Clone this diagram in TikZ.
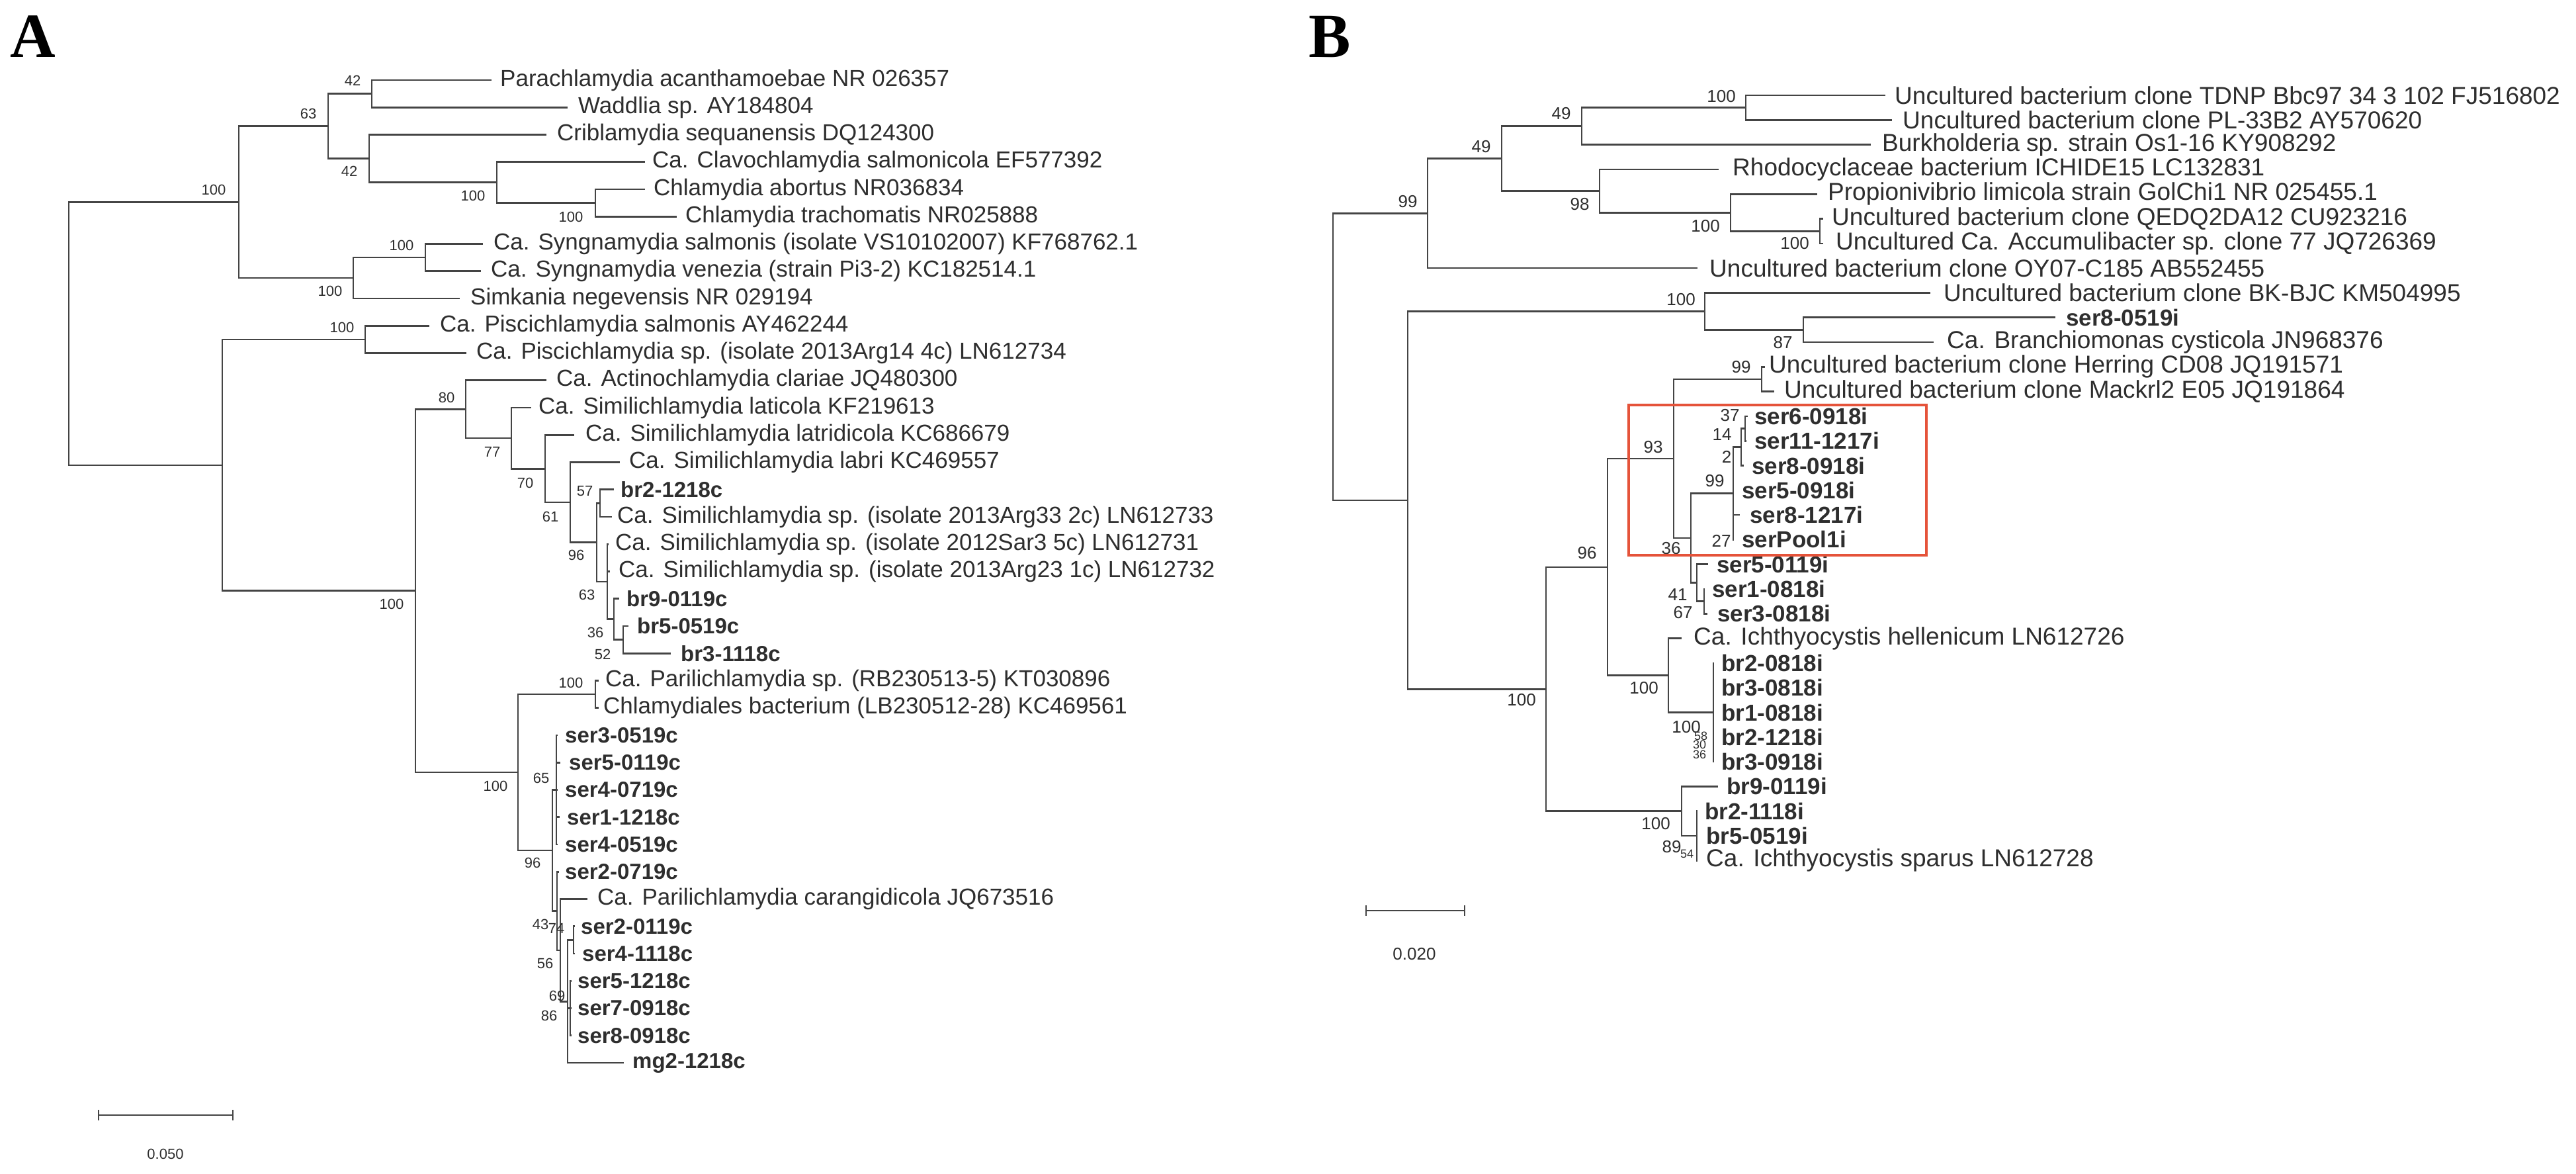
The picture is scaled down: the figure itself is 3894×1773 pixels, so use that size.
\documentclass[tikz,border=0pt]{standalone}
\usepackage{fontspec}
\setmainfont{Liberation Sans}
\newfontfamily\serifb{Liberation Serif}
\definecolor{treeline}{HTML}{444444}
\definecolor{txt}{HTML}{2E2E2E}
\definecolor{boxred}{HTML}{E5533A}
\tikzset{
  edge/.style={draw=treeline,line width=2.6pt},
  lA/.style={anchor=west,inner sep=0pt,text=txt,font=\fontsize{35}{40}\selectfont},
  bA/.style={anchor=west,inner sep=0pt,text=txt,font=\fontsize{33}{38}\selectfont\bfseries},
  lB/.style={anchor=west,inner sep=0pt,text=txt,font=\fontsize{37}{42}\selectfont},
  bB/.style={anchor=west,inner sep=0pt,text=txt,font=\fontsize{35}{40}\selectfont\bfseries},
  sA/.style={inner sep=0pt,text=txt,font=\fontsize{22}{24}\selectfont},
  sB/.style={inner sep=0pt,text=txt,font=\fontsize{26}{28}\selectfont},
  sC/.style={inner sep=0pt,text=txt,font=\fontsize{18}{19}\selectfont},
  panel/.style={inner sep=0pt,font=\fontsize{95}{100}\selectfont\serifb\bfseries}
}
\newcommand\leaf[6]{\coordinate (#1) at (#2,#3); \node[#5] (#1-t) at (#4,#3) {#6};}
\newcommand\ed[2]{\draw[edge] (#1) |- (#2);}
\newcommand\bsv[5]{\node[#5] (#1) at (#2,#3) {#4};}
\begin{document}
\begin{tikzpicture}[x=1pt,y=-1pt]
\useasboundingbox (0,0) rectangle (3894,1773);
\fill[white] (0,0) rectangle (3894,1773);
\node[panel] (pA) at (50,55) {A};
\node[panel] (pB) at (2010,56) {B};

% ---------------- Panel A ----------------
\coordinate (rA) at (104,504);
\coordinate (n100a) at (361,305.3);
\coordinate (n63) at (496,190.6);
\coordinate (n42a) at (562,141.6);
\coordinate (n42b) at (558,239.6);
\coordinate (n100b) at (751,275.7);
\coordinate (n100c) at (900,306.6);
\coordinate (n100d) at (534,420);
\coordinate (n100e) at (643,389.1);
\coordinate (nlow) at (336,702.8);
\coordinate (n100f) at (552,512.9);
\coordinate (n100g) at (628,892.7);
\coordinate (n80) at (704,618.4);
\coordinate (n77) at (773,662.1);
\coordinate (n70) at (824,708.2);
\coordinate (n61) at (862,759.1);
\coordinate (n96) at (902,819.7);
\coordinate (n57) at (907,760.4);
\coordinate (n63b) at (918,879);
\coordinate (n36) at (928,935.7);
\coordinate (n52) at (942,966.6);
\coordinate (n100i) at (783,1167);
\coordinate (n100h) at (900,1049.1);
\coordinate (n96s) at (835,1285);
\coordinate (n65) at (841,1193.5);
\coordinate (n43) at (842,1376.6);
\coordinate (n74) at (847,1435.9);
\coordinate (n56) at (858,1513.2);
\coordinate (n74b) at (867,1420.4);
\coordinate (n69) at (862,1523.5);

\leaf{para}{743}{121}{756}{lA}{Parachlamydia acanthamoebae NR 026357}
\leaf{wadd}{858}{162.25}{874}{lA}{Waddlia sp. AY184804}
\leaf{cribl}{826}{203.5}{842}{lA}{Criblamydia sequanensis DQ124300}
\leaf{clavo}{975}{244.75}{986}{lA}{Ca. Clavochlamydia salmonicola EF577392}
\leaf{abort}{975}{286}{988}{lA}{Chlamydia abortus NR036834}
\leaf{trach}{1023}{327.25}{1036}{lA}{Chlamydia trachomatis NR025888}
\leaf{syngS}{730}{368.5}{746}{lA}{Ca. Syngnamydia salmonis (isolate VS10102007) KF768762.1}
\leaf{syngV}{727}{409.75}{742}{lA}{Ca. Syngnamydia venezia (strain Pi3-2) KC182514.1}
\leaf{simk}{695}{451}{711}{lA}{Simkania negevensis NR 029194}
\leaf{pisS}{649}{492.25}{665}{lA}{Ca. Piscichlamydia salmonis AY462244}
\leaf{pisSp}{705}{533.5}{720}{lA}{Ca. Piscichlamydia sp. (isolate 2013Arg14 4c) LN612734}
\leaf{actino}{826}{574.75}{841}{lA}{Ca. Actinochlamydia clariae JQ480300}
\leaf{latic}{803}{616}{814}{lA}{Ca. Similichlamydia laticola KF219613}
\leaf{latri}{868}{657.25}{885}{lA}{Ca. Similichlamydia latridicola KC686679}
\leaf{labri}{937}{698.5}{951}{lA}{Ca. Similichlamydia labri KC469557}
\leaf{brA}{928}{739.75}{938}{bA}{br2-1218c}
\leaf{arg33}{925}{781}{933}{lA}{Ca. Similichlamydia sp. (isolate 2013Arg33 2c) LN612733}
\leaf{sar3}{920}{822.25}{930}{lA}{Ca. Similichlamydia sp. (isolate 2012Sar3 5c) LN612731}
\leaf{arg23}{922}{863.5}{935}{lA}{Ca. Similichlamydia sp. (isolate 2013Arg23 1c) LN612732}
\leaf{br9}{936}{904.75}{947}{bA}{br9-0119c}
\leaf{br5}{950}{946}{963}{bA}{br5-0519c}
\leaf{br3}{1014}{987.25}{1029}{bA}{br3-1118c}
\leaf{parsp}{905}{1028.5}{915}{lA}{Ca. Parilichlamydia sp. (RB230513-5) KT030896}
\leaf{chlb}{905}{1069.75}{912}{lA}{Chlamydiales bacterium (LB230512-28) KC469561}
\leaf{serA1}{843}{1111}{854}{bA}{ser3-0519c}
\leaf{serA2}{847}{1152.25}{860}{bA}{ser5-0119c}
\leaf{serA3}{843}{1193.5}{854}{bA}{ser4-0719c}
\leaf{serA4}{846}{1234.75}{857}{bA}{ser1-1218c}
\leaf{serA5}{843}{1276}{854}{bA}{ser4-0519c}
\leaf{serA6}{845}{1317.25}{854}{bA}{ser2-0719c}
\leaf{parc}{888}{1358.5}{903}{lA}{Ca. Parilichlamydia carangidicola JQ673516}
\leaf{serA7}{869}{1399.75}{878}{bA}{ser2-0119c}
\leaf{serA8}{869}{1441}{880}{bA}{ser4-1118c}
\leaf{serA9}{864}{1482.25}{873}{bA}{ser5-1218c}
\leaf{serA10}{864}{1523.5}{873}{bA}{ser7-0918c}
\leaf{serA11}{864}{1564.75}{873}{bA}{ser8-0918c}
\leaf{mg2}{943}{1606}{956}{bA}{mg2-1218c}

\ed{rA}{n100a}\ed{rA}{nlow}
\ed{n100a}{n63}\ed{n100a}{n100d}
\ed{n63}{n42a}\ed{n63}{n42b}
\ed{n42a}{para}\ed{n42a}{wadd}
\ed{n42b}{cribl}\ed{n42b}{n100b}
\ed{n100b}{clavo}\ed{n100b}{n100c}
\ed{n100c}{abort}\ed{n100c}{trach}
\ed{n100d}{n100e}\ed{n100d}{simk}
\ed{n100e}{syngS}\ed{n100e}{syngV}
\ed{nlow}{n100f}\ed{nlow}{n100g}
\ed{n100f}{pisS}\ed{n100f}{pisSp}
\ed{n100g}{n80}\ed{n100g}{n100i}
\ed{n80}{actino}\ed{n80}{n77}
\ed{n77}{latic}\ed{n77}{n70}
\ed{n70}{latri}\ed{n70}{n61}
\ed{n61}{labri}\ed{n61}{n96}
\ed{n96}{n57}\ed{n96}{n63b}
\ed{n57}{brA}\ed{n57}{arg33}
\ed{n63b}{sar3}\ed{n63b}{arg23}\ed{n63b}{n36}
\ed{n36}{br9}\ed{n36}{n52}
\ed{n52}{br5}\ed{n52}{br3}
\ed{n100i}{n100h}\ed{n100i}{n96s}
\ed{n100h}{parsp}\ed{n100h}{chlb}
\ed{n96s}{n65}\ed{n96s}{n43}
\ed{n65}{serA1}\ed{n65}{serA2}\ed{n65}{serA3}\ed{n65}{serA4}\ed{n65}{serA5}
\ed{n43}{serA6}\ed{n43}{n74}
\ed{n74}{parc}\ed{n74}{n56}
\ed{n56}{n74b}\ed{n56}{n69}\ed{n56}{mg2}
\ed{n74b}{serA7}\ed{n74b}{serA8}
\ed{n69}{serA9}\ed{n69}{serA10}\ed{n69}{serA11}

\bsv{a1}{533}{122}{42}{sA}
\bsv{a2}{466}{172}{63}{sA}
\bsv{a3}{528}{259}{42}{sA}
\bsv{a4}{323}{287}{100}{sA}
\bsv{a5}{715}{296}{100}{sA}
\bsv{a6}{863}{328}{100}{sA}
\bsv{a7}{607}{371}{100}{sA}
\bsv{a8}{499}{440}{100}{sA}
\bsv{a9}{517}{495}{100}{sA}
\bsv{a10}{675}{601}{80}{sA}
\bsv{a11}{744}{683}{77}{sA}
\bsv{a12}{794}{730}{70}{sA}
\bsv{a13}{832}{781}{61}{sA}
\bsv{a14}{884}{742}{57}{sA}
\bsv{a15}{871}{839}{96}{sA}
\bsv{a16}{887}{899}{63}{sA}
\bsv{a17}{900}{956}{36}{sA}
\bsv{a18}{911}{989}{52}{sA}
\bsv{a19}{592}{913}{100}{sA}
\bsv{a20}{863}{1032}{100}{sA}
\bsv{a21}{749}{1188}{100}{sA}
\bsv{a22}{818}{1176}{65}{sA}
\bsv{a23}{805}{1304}{96}{sA}
\bsv{a24}{817}{1397}{43}{sA}
\bsv{a25}{841}{1403}{74}{sA}
\bsv{a26}{824}{1456}{56}{sA}
\bsv{a27}{842}{1505}{69}{sA}
\bsv{a28}{830}{1535}{86}{sA}

\coordinate (sa1) at (149,1685); \coordinate (sa2) at (352,1685);
\draw[edge,line width=2pt] (sa1) -- (sa2);
\draw[edge,line width=2pt] (149,1677) -- (149,1693) (352,1677) -- (352,1693);
\node[sA] (sal) at (250,1744) {0.050};

% ---------------- Panel B ----------------
\coordinate (rB) at (2015,539.1);
\coordinate (n99) at (2158,322.3);
\coordinate (n49a) at (2270,239.6);
\coordinate (n49b) at (2391,190.6);
\coordinate (nt100) at (2639,162.7);
\coordinate (n98) at (2418,288.5);
\coordinate (n100p) at (2616,321.2);
\coordinate (n100q) at (2751,349.2);
\coordinate (nlowB) at (2128,755.9);
\coordinate (n100bk) at (2577,470.4);
\coordinate (n87) at (2726,498.4);
\coordinate (n96B) at (2337,1041.3);
\coordinate (n93) at (2430,856.8);
\coordinate (na) at (2530,693);
\coordinate (n99h) at (2663,573);
\coordinate (n36B) at (2556,813.1);
\coordinate (n99s) at (2620,745.5);
\coordinate (n14) at (2632,675.5);
\coordinate (n37) at (2638,647.6);
\coordinate (n41) at (2565,880.7);
\coordinate (n67) at (2576,908.7);
\coordinate (n100hell) at (2522,1020.6);
\coordinate (n100br) at (2590,1076.5);
\coordinate (n100cB) at (2542,1225.7);
\coordinate (n89) at (2565,1263);

\leaf{tdnp}{2850}{144}{2864}{lB}{Uncultured bacterium clone TDNP Bbc97 34 3 102 FJ516802}
\leaf{pl}{2860}{181.3}{2876}{lB}{Uncultured bacterium clone PL-33B2 AY570620}
\leaf{burk}{2828}{218.6}{2845}{lB}{Burkholderia sp. strain Os1-16 KY908292}
\leaf{rhodo}{2598}{255.9}{2619}{lB}{Rhodocyclaceae bacterium ICHIDE15 LC132831}
\leaf{propi}{2747}{293.2}{2763}{lB}{Propionivibrio limicola strain GolChi1 NR 025455.1}
\leaf{qedq}{2756}{330.5}{2769}{lB}{Uncultured bacterium clone QEDQ2DA12 CU923216}
\leaf{accum}{2756}{367.8}{2775}{lB}{Uncultured Ca. Accumulibacter sp. clone 77 JQ726369}
\leaf{oy07}{2566}{405.1}{2584}{lB}{Uncultured bacterium clone OY07-C185 AB552455}
\leaf{bk}{2918}{442.4}{2938}{lB}{Uncultured bacterium clone BK-BJC KM504995}
\leaf{serB1}{3107}{479.7}{3123}{bB}{ser8-0519i}
\leaf{branch}{2923}{517}{2943}{lB}{Ca. Branchiomonas cysticola JN968376}
\leaf{herr}{2668}{554.3}{2674}{lB}{Uncultured bacterium clone Herring CD08 JQ191571}
\leaf{mack}{2682}{591.6}{2697}{lB}{Uncultured bacterium clone Mackrl2 E05 JQ191864}
\leaf{serB2}{2642}{628.9}{2652}{bB}{ser6-0918i}
\leaf{serB3}{2640}{666.2}{2652}{bB}{ser11-1217i}
\leaf{serB4}{2636}{703.5}{2648}{bB}{ser8-0918i}
\leaf{serB5}{2621}{740.8}{2633}{bB}{ser5-0918i}
\leaf{serB6}{2630}{778.1}{2645}{bB}{ser8-1217i}
\leaf{serB7}{2621}{815.4}{2633}{bB}{serPool1i}
\leaf{serB8}{2582}{852.7}{2595}{bB}{ser5-0119i}
\leaf{serB9}{2577}{890}{2588}{bB}{ser1-0818i}
\leaf{serB10}{2581}{927.3}{2596}{bB}{ser3-0818i}
\leaf{hell}{2542}{964.6}{2560}{lB}{Ca. Ichthyocystis hellenicum LN612726}
\leaf{brB1}{2591}{1001.9}{2602}{bB}{br2-0818i}
\leaf{brB2}{2591}{1039.2}{2602}{bB}{br3-0818i}
\leaf{brB3}{2591}{1076.5}{2602}{bB}{br1-0818i}
\leaf{brB4}{2591}{1113.8}{2602}{bB}{br2-1218i}
\leaf{brB5}{2591}{1151.1}{2602}{bB}{br3-0918i}
\leaf{brB6}{2597}{1188.4}{2610}{bB}{br9-0119i}
\leaf{brB7}{2566}{1225.7}{2577}{bB}{br2-1118i}
\leaf{brB8}{2566}{1263}{2579}{bB}{br5-0519i}
\leaf{spar}{2566}{1300.3}{2579}{lB}{Ca. Ichthyocystis sparus LN612728}

\ed{rB}{n99}\ed{rB}{nlowB}
\ed{n99}{n49a}\ed{n99}{oy07}
\ed{n49a}{n49b}\ed{n49a}{n98}
\ed{n49b}{nt100}\ed{n49b}{burk}
\ed{nt100}{tdnp}\ed{nt100}{pl}
\ed{n98}{rhodo}\ed{n98}{n100p}
\ed{n100p}{propi}\ed{n100p}{n100q}
\ed{n100q}{qedq}\ed{n100q}{accum}
\ed{nlowB}{n100bk}\ed{nlowB}{n96B}
\ed{n100bk}{bk}\ed{n100bk}{n87}
\ed{n87}{serB1}\ed{n87}{branch}
\ed{n96B}{n93}\ed{n96B}{n100cB}
\ed{n93}{na}\ed{n93}{n100hell}
\ed{na}{n99h}\ed{na}{n36B}
\ed{n99h}{herr}\ed{n99h}{mack}
\ed{n36B}{n99s}\ed{n36B}{n41}
\ed{n99s}{n14}\ed{n99s}{serB5}\ed{n99s}{serB6}\ed{n99s}{serB7}
\ed{n14}{n37}\ed{n14}{serB4}
\ed{n37}{serB2}\ed{n37}{serB3}
\ed{n41}{serB8}\ed{n41}{n67}
\ed{n67}{serB9}\ed{n67}{serB10}
\ed{n100hell}{hell}\ed{n100hell}{n100br}
\ed{n100br}{brB1}\ed{n100br}{brB2}\ed{n100br}{brB3}\ed{n100br}{brB4}\ed{n100br}{brB5}
\ed{n100cB}{brB6}\ed{n100cB}{n89}
\ed{n89}{brB7}\ed{n89}{brB8}\ed{n89}{spar}

\bsv{b1}{2602}{146}{100}{sB}
\bsv{b2}{2360}{172}{49}{sB}
\bsv{b3}{2239}{222}{49}{sB}
\bsv{b4}{2128}{305}{99}{sB}
\bsv{b5}{2388}{309}{98}{sB}
\bsv{b6}{2578}{342}{100}{sB}
\bsv{b7}{2713}{368}{100}{sB}
\bsv{b8}{2541}{453}{100}{sB}
\bsv{b9}{2695}{518}{87}{sB}
\bsv{b10}{2632}{555}{99}{sB}
\bsv{b11}{2499}{676}{93}{sB}
\bsv{b12}{2399}{836}{96}{sB}
\bsv{b13}{2300}{1058}{100}{sB}
\bsv{b14}{2526}{829}{36}{sB}
\bsv{b15}{2615}{628}{37}{sB}
\bsv{b16}{2603}{657}{14}{sB}
\bsv{b17}{2610}{690}{2}{sB}
\bsv{b18}{2592}{727}{99}{sB}
\bsv{b19}{2602}{817}{27}{sB}
\bsv{b20}{2536}{899}{41}{sB}
\bsv{b21}{2544}{926}{67}{sB}
\bsv{b22}{2485}{1040}{100}{sB}
\bsv{b23}{2549}{1099}{100}{sB}
\bsv{b24}{2571}{1112}{58}{sC}
\bsv{b25}{2569}{1125}{30}{sC}
\bsv{b26}{2569}{1140}{36}{sC}
\bsv{b27}{2503}{1245}{100}{sB}
\bsv{b28}{2527}{1280}{89}{sB}
\bsv{b29}{2550}{1290}{54}{sC}

\node[draw=boxred,line width=3.5pt,minimum width=450pt,minimum height=227pt,inner sep=0pt,anchor=north west] (redbox) at (2460,610) {};

\coordinate (sb1) at (2065,1376); \coordinate (sb2) at (2214,1376);
\draw[edge,line width=2pt] (sb1) -- (sb2);
\draw[edge,line width=2pt] (2065,1368) -- (2065,1384) (2214,1368) -- (2214,1384);
\node[sB] (sbl) at (2138,1442) {0.020};
\end{tikzpicture}
\end{document}
